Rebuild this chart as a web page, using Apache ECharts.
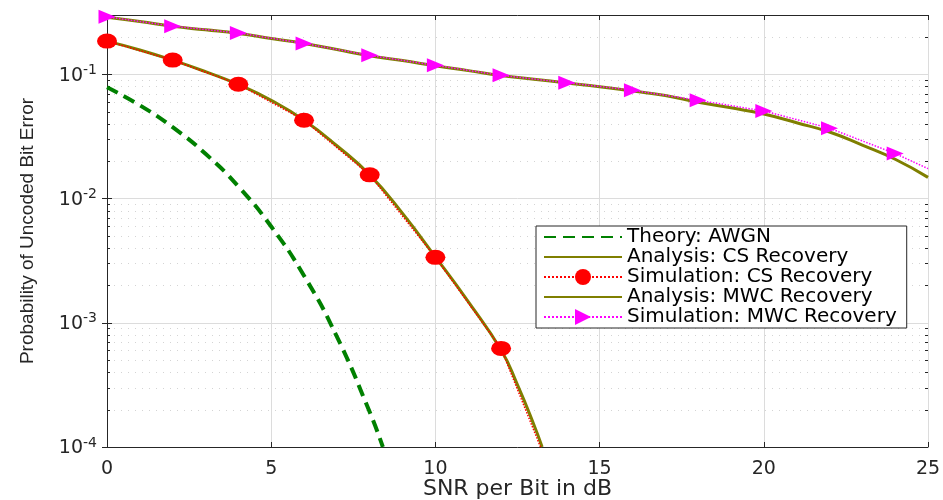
<!DOCTYPE html>
<html>
<head>
<meta charset="utf-8">
<title>BER vs SNR</title>
<script src="https://cdn.jsdelivr.net/npm/echarts@6.0.0/dist/echarts.min.js"></script>
<style>
  html, body { margin: 0; padding: 0; background: #fff; }
  #chart { width: 943px; height: 500px; }
</style>
</head>
<body>
<div id="chart"></div>
<script>
// values
const awgnSnr = [0, 1, 2, 3, 4, 5, 6, 7, 8, 8.4];
const awgnBer = [0.0786, 0.0563, 0.0375, 0.0229, 0.0125, 0.00595, 0.00239, 0.000773, 0.000191, 0.0001];

const csAnaSnr = [0, 1, 2, 3, 4, 5, 6, 7, 8, 9, 10, 11, 12, 12.5, 13, 13.25];
const csAnaBer = [0.185, 0.157, 0.130, 0.105, 0.0828, 0.0617, 0.0427, 0.0266, 0.0155, 0.00759,
  0.00339, 0.00148, 0.000603, 0.000316, 0.000151, 0.0001];

// last point carries the dotted line to the axis, no marker
const csSimSnr = [0, 2, 4, 6, 8, 10, 12, 13.2];
const csSimBer = [0.185, 0.130, 0.0831, 0.0427, 0.0155, 0.00336, 0.000622, 0.0001];

const mwcAnaSnr = [0, 1, 2, 3, 4, 5, 6, 7, 8, 9, 10, 11, 12, 13, 14, 15, 16, 17, 18, 19, 20, 21, 22, 23, 24, 25];
const mwcAnaBer = [0.288, 0.266, 0.243, 0.228, 0.213, 0.194, 0.177, 0.158, 0.141, 0.129, 0.117, 0.107,
  0.0977, 0.0912, 0.0851, 0.0794, 0.0733, 0.0676, 0.0596, 0.0537, 0.0479, 0.0407, 0.0343, 0.0269, 0.0207, 0.0148];

const mwcSimSnr = [0, 2, 4, 6, 8, 10, 12, 14, 16, 18, 20, 22, 24, 25];
const mwcSimBer = [0.290, 0.244, 0.215, 0.177, 0.142, 0.118, 0.098, 0.0856, 0.0743, 0.0618, 0.0507, 0.0368, 0.0230, 0.0174];

const legendNames = ['Theory: AWGN', 'Analysis: CS Recovery', 'Simulation: CS Recovery',
  'Analysis: MWC Recovery', 'Simulation: MWC Recovery'];
const noMarker = [true, true, false, true, false];

const yMin = 1e-4;
const yMax = 0.3;

// minor log grid: 2..9 of each decade
const minorTicks = [];
[1e-4, 1e-3, 1e-2, 1e-1].forEach(function (d) {
  for (let k = 2; k <= 9; k++) {
    if (d * k < yMax) minorTicks.push(+(d * k).toPrecision(3));
  }
});

const textColor = '#262626';
const font = 'DejaVu Sans';

function pairs(xs, ys) {
  return xs.map((x, i) => [x, ys[i]]);
}
function pairsWithTail(xs, ys) {
  return xs.map((x, i) => i < xs.length - 1 ? [x, ys[i]] : { value: [x, ys[i]], symbol: 'none' });
}

const chart = echarts.init(document.getElementById('chart'));

chart.setOption({
  backgroundColor: '#fff',
  animation: false,
  grid: { left: 107, right: 15, top: 15, bottom: 53, outerBoundsMode: 'none' },
  legend: {
    data: legendNames.map((n, i) => noMarker[i] ? { name: n, itemStyle: { opacity: 0 } } : { name: n }),
    orient: 'vertical',
    left: 536,
    top: 226,
    backgroundColor: '#fff',
    borderColor: textColor,
    borderWidth: 1,
    borderRadius: 0,
    padding: [1, 10, 1, 7],
    itemWidth: 78,
    itemHeight: 20,
    itemGap: 0,
    textStyle: { fontFamily: font, fontSize: 20, color: '#000', lineHeight: 20 }
  },
  xAxis: [
    {
      type: 'value',
      min: 0,
      max: 25,
      interval: 5,
      name: 'SNR per Bit in dB',
      nameLocation: 'middle',
      nameGap: 31,
      nameMoveOverlap: false,
      nameTextStyle: { fontFamily: font, fontSize: 22, color: textColor },
      axisLine: { lineStyle: { color: textColor, width: 1 } },
      axisTick: { inside: true, length: 5, lineStyle: { color: textColor } },
      axisLabel: { margin: 13, fontFamily: font, fontSize: 19, color: textColor },
      splitLine: { show: true, lineStyle: { color: '#dcdcdc', width: 1 } }
    },
    {
      type: 'value',
      position: 'top',
      min: 0,
      max: 25,
      interval: 5,
      axisLine: { show: true, lineStyle: { color: textColor, width: 1 } },
      axisTick: { inside: true, length: 5, lineStyle: { color: textColor } },
      axisLabel: { show: false },
      splitLine: { show: false }
    }
  ],
  yAxis: [
    {
      type: 'log',
      logBase: 10,
      min: yMin,
      max: yMax,
      name: 'Probability of Uncoded Bit Error',
      nameLocation: 'middle',
      nameRotate: 90,
      nameGap: 70,
      nameMoveOverlap: false,
      nameTextStyle: { fontFamily: 'Liberation Sans', fontSize: 19, color: textColor },
      axisLine: { show: true, lineStyle: { color: textColor, width: 1 } },
      axisTick: { inside: true, length: 5, lineStyle: { color: textColor } },
      axisLabel: {
        margin: 10,
        formatter: function (v) {
          const l = Math.log10(v);
          const e = Math.round(l);
          if (Math.abs(l - e) > 1e-6) return '';
          return '{b|10}{s|' + e + '}';
        },
        rich: {
          b: { fontFamily: font, fontSize: 19, color: textColor, lineHeight: 22, verticalAlign: 'bottom' },
          s: { fontFamily: font, fontSize: 14, color: textColor, lineHeight: 22, verticalAlign: 'top' }
        }
      },
      splitLine: { show: true, lineStyle: { color: '#dcdcdc', width: 1 } }
    },
    {
      type: 'log',
      logBase: 10,
      position: 'right',
      min: yMin,
      max: yMax,
      axisLine: { show: true, lineStyle: { color: textColor, width: 1 } },
      axisTick: { inside: true, length: 5, lineStyle: { color: textColor } },
      axisLabel: { show: false },
      splitLine: { show: false }
    }
  ],
  series: [
    {
      // minor grid lines and minor ticks of the log axis
      name: 'minor',
      type: 'custom',
      silent: true,
      z: 1,
      data: minorTicks.map(v => [0, v]),
      encode: { x: 0, y: 1 },
      renderItem: function (params, api) {
        const cs = params.coordSys;
        const y = Math.round(api.coord([0, api.value(1)])[1]) + 0.5;
        const left = cs.x;
        const right = cs.x + cs.width;
        return {
          type: 'group',
          children: [
            { type: 'line', shape: { x1: left, y1: y, x2: right, y2: y },
              style: { stroke: '#d4d4d4', lineWidth: 1, lineDash: [1, 6] } },
            { type: 'line', shape: { x1: left, y1: y, x2: left + 3, y2: y },
              style: { stroke: textColor, lineWidth: 1 } },
            { type: 'line', shape: { x1: right - 3, y1: y, x2: right, y2: y },
              style: { stroke: textColor, lineWidth: 1 } }
          ]
        };
      }
    },
    {
      name: legendNames[0],
      type: 'line',
      smooth: true,
      symbol: 'none',
      data: pairs(awgnSnr, awgnBer),
      lineStyle: { color: '#008000', width: 4, type: [12, 7] },
      itemStyle: { color: '#008000' }
    },
    {
      name: legendNames[1],
      type: 'line',
      smooth: true,
      symbol: 'none',
      data: pairs(csAnaSnr, csAnaBer),
      lineStyle: { color: '#7f7f00', width: 3 },
      itemStyle: { color: '#7f7f00' }
    },
    {
      name: legendNames[2],
      type: 'line',
      symbol: 'circle',
      symbolSize: [20, 15],
      data: pairsWithTail(csSimSnr, csSimBer),
      lineStyle: { color: '#ff0000', width: 1.5, type: 'dotted' },
      itemStyle: { color: '#ff0000' }
    },
    {
      name: legendNames[3],
      type: 'line',
      smooth: true,
      symbol: 'none',
      data: pairs(mwcAnaSnr, mwcAnaBer),
      lineStyle: { color: '#7f7f00', width: 3 },
      itemStyle: { color: '#7f7f00' }
    },
    {
      name: legendNames[4],
      type: 'line',
      symbol: 'path://M0,0L10,5L0,10Z',
      symbolSize: [17, 14],
      clip: false,
      data: pairsWithTail(mwcSimSnr, mwcSimBer),
      lineStyle: { color: '#ff00ff', width: 1.5, type: 'dotted' },
      itemStyle: { color: '#ff00ff' }
    }
  ]
});
</script>
</body>
</html>
